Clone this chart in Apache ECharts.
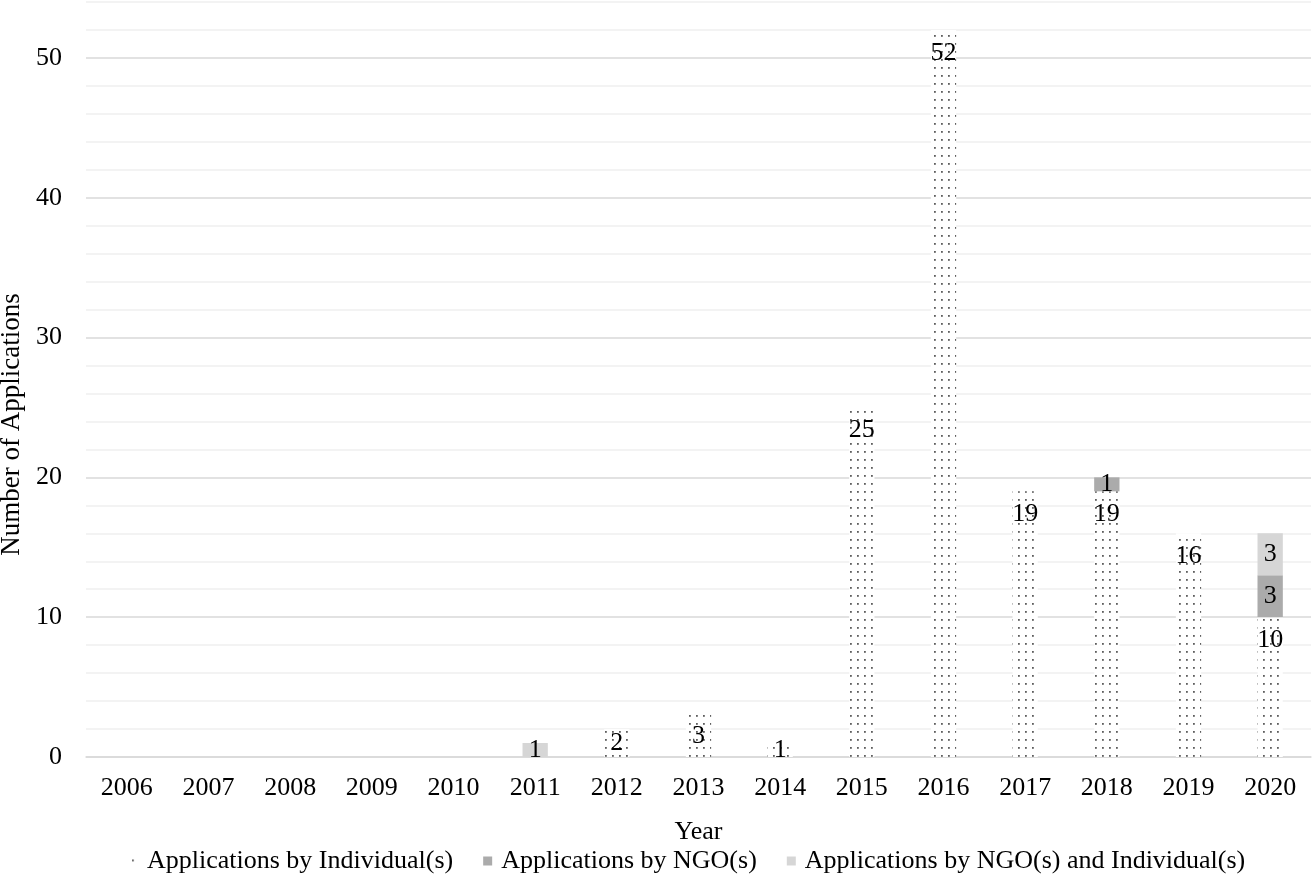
<!DOCTYPE html>
<html>
<head>
<meta charset="utf-8">
<script src="https://cdn.jsdelivr.net/npm/echarts@6/dist/echarts.min.js"></script>
<style>
  html, body { margin: 0; padding: 0; background: #fff; }
  #chart { width: 1314px; height: 880px; }
</style>
</head>
<body>
<div id="chart"></div>
<script>
// categories and values
var years = ['2006', '2007', '2008', '2009', '2010', '2011', '2012', '2013', '2014', '2015', '2016', '2017', '2018', '2019', '2020'];
var byIndividual = [0, 0, 0, 0, 0, 0, 2, 3, 1, 25, 52, 19, 19, 16, 10];
var byNgo = [0, 0, 0, 0, 0, 0, 0, 0, 0, 0, 0, 0, 1, 0, 3];
var byNgoAndIndividual = [0, 0, 0, 0, 0, 1, 0, 0, 0, 0, 0, 0, 0, 0, 3];
var seriesNames = ['Applications by Individual(s)', 'Applications by NGO(s)', 'Applications by NGO(s) and Individual(s)'];

var FONT = "'Liberation Serif', 'Times New Roman', serif";

// dotted fill like the Excel pattern
function dotPattern() {
    var c = document.createElement('canvas');
    c.width = 7;
    c.height = 8;
    var ctx = c.getContext('2d');
    ctx.fillStyle = '#ffffff';
    ctx.fillRect(0, 0, 7, 8);
    ctx.fillStyle = '#5e5e5e';
    ctx.fillRect(3, 3, 1.8, 1.8);
    return c;
}

function toData(arr) {
    return arr.map(function (v) {
        var item = { value: v };
        if (v > 0 && v < 5) {
            item.label = { position: 'inside', distance: 0 };
        }
        return item;
    });
}

var labelBase = {
    show: true,
    position: 'insideTop',
    distance: 10,
    color: '#000',
    fontFamily: FONT,
    fontSize: 26,
    formatter: function (p) { return p.value ? String(p.value) : ''; }
};

var chart = echarts.init(document.getElementById('chart'));

var option = {
    backgroundColor: '#fff',
    animation: false,
    textStyle: { fontFamily: FONT },
    grid: { left: 86, right: 3, top: 2, bottom: 123, outerBoundsMode: 'none', containLabel: false },
    legend: {
        bottom: 1,
        left: 124,
        itemWidth: 9,
        itemHeight: 9,
        itemGap: 30,
        icon: 'rect',
        textStyle: { fontFamily: FONT, fontSize: 26, color: '#000', padding: [0, 0, 0, 4] },
        data: seriesNames
    },
    xAxis: {
        type: 'category',
        data: years,
        name: 'Year',
        nameLocation: 'middle',
        nameGap: 62,
        nameTextStyle: { fontFamily: FONT, fontSize: 26, color: '#000' },
        axisLine: { show: true, lineStyle: { color: '#d9d9d9', width: 1.5 } },
        axisTick: { show: false },
        axisLabel: { fontFamily: FONT, fontSize: 26, color: '#000', margin: 18 }
    },
    yAxis: {
        type: 'value',
        min: 0,
        max: 54,
        interval: 2,
        name: 'Number of Applications',
        nameLocation: 'middle',
        nameGap: 57,
        nameTextStyle: { fontFamily: FONT, fontSize: 27, color: '#000', padding: [0, 90, 0, 0] },
        axisLine: { show: false },
        axisTick: { show: false },
        axisLabel: {
            fontFamily: FONT,
            fontSize: 26,
            color: '#000',
            margin: 24,
            formatter: function (v) { return v % 10 === 0 ? String(v) : ''; }
        },
        splitLine: {
            show: true,
            lineStyle: { color: ['#d9d9d9', '#efefef', '#efefef', '#efefef', '#efefef'], width: 1.5 }
        }
    },
    series: [{
        name: seriesNames[0],
        type: 'bar',
        stack: 'total',
        barWidth: '31%',
        itemStyle: { color: { image: dotPattern(), repeat: 'repeat' } },
        label: labelBase,
        data: toData(byIndividual)
    }, {
        name: seriesNames[1],
        type: 'bar',
        stack: 'total',
        barWidth: '31%',
        itemStyle: { color: '#ababab' },
        label: labelBase,
        data: toData(byNgo)
    }, {
        name: seriesNames[2],
        type: 'bar',
        stack: 'total',
        barWidth: '31%',
        itemStyle: { color: '#d6d6d6' },
        label: labelBase,
        data: toData(byNgoAndIndividual)
    }]
};

chart.setOption(option);
</script>
</body>
</html>
